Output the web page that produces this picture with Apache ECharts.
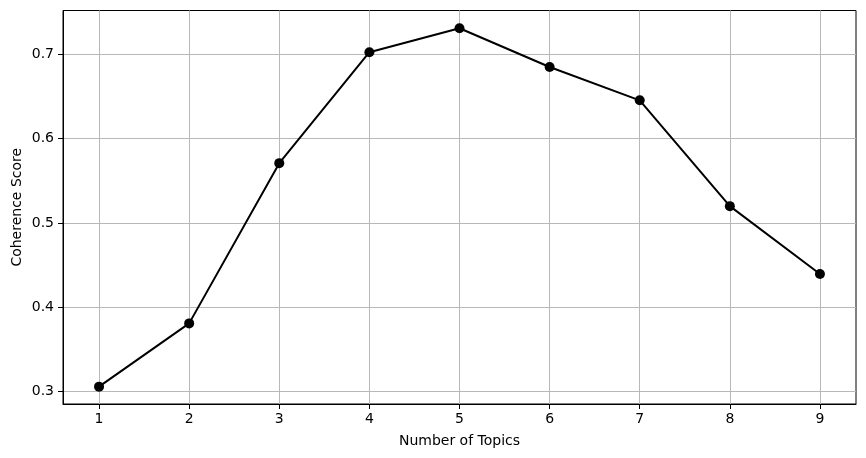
<!DOCTYPE html>
<html>
<head>
<meta charset="utf-8">
<script src="https://cdn.jsdelivr.net/npm/echarts@6/dist/echarts.min.js"></script>
<style>html,body{margin:0;padding:0;background:#fff}#c{width:866px;height:458px}</style>
</head>
<body>
<div id="c"></div>
<script>
const topics = [1, 2, 3, 4, 5, 6, 7, 8, 9];
const coherence = [0.306, 0.381, 0.571, 0.7026, 0.731, 0.685, 0.6455, 0.520, 0.4396];
const xTicks = [1, 2, 3, 4, 5, 6, 7, 8, 9];
const yTicks = [0.3, 0.4, 0.5, 0.6, 0.7];

const font = 'DejaVu Sans';
const chart = echarts.init(document.getElementById('c'), null, {renderer: 'canvas'});
chart.setOption({
  animation: false,
  backgroundColor: '#fff',
  grid: {left: 63, right: 10, top: 10.5, bottom: 54, containLabel: false, outerBoundsMode: 'none', show: true, borderColor: '#000', borderWidth: 1, backgroundColor: 'transparent'},
  xAxis: {
    type: 'value', min: 0.6, max: 9.4,
    name: 'Number of Topics', nameLocation: 'middle', nameGap: 30, nameMoveOverlap: false,
    nameTextStyle: {fontFamily: font, fontSize: 14, color: '#000'},
    axisLine: {show: true, lineStyle: {color: '#000', width: 1}},
    axisTick: {show: true, length: 5, lineStyle: {color: '#000'}, customValues: xTicks},
    axisLabel: {fontFamily: font, fontSize: 14, color: '#000', margin: 8, customValues: xTicks, formatter: v => String(v)},
    splitLine: {show: true, lineStyle: {color: '#b8b8b8', width: 1}}
  },
  yAxis: {
    type: 'value', min: 0.2854, max: 0.752,
    name: 'Coherence Score', nameLocation: 'middle', nameGap: 39, nameRotate: 90, nameMoveOverlap: false,
    nameTextStyle: {fontFamily: font, fontSize: 14, color: '#000'},
    axisLine: {show: true, lineStyle: {color: '#000', width: 1}},
    axisTick: {show: true, length: 5, lineStyle: {color: '#000'}, customValues: yTicks},
    axisLabel: {fontFamily: font, fontSize: 14, color: '#000', margin: 9, customValues: yTicks, formatter: v => v.toFixed(1)},
    splitLine: {show: true, lineStyle: {color: '#b8b8b8', width: 1}}
  },
  series: [{
    type: 'line',
    data: topics.map((t, i) => [t, coherence[i]]),
    lineStyle: {color: '#000', width: 2},
    itemStyle: {color: '#000'},
    symbol: 'circle', symbolSize: 10,
    z: 5
  }]
});
</script>
</body>
</html>
